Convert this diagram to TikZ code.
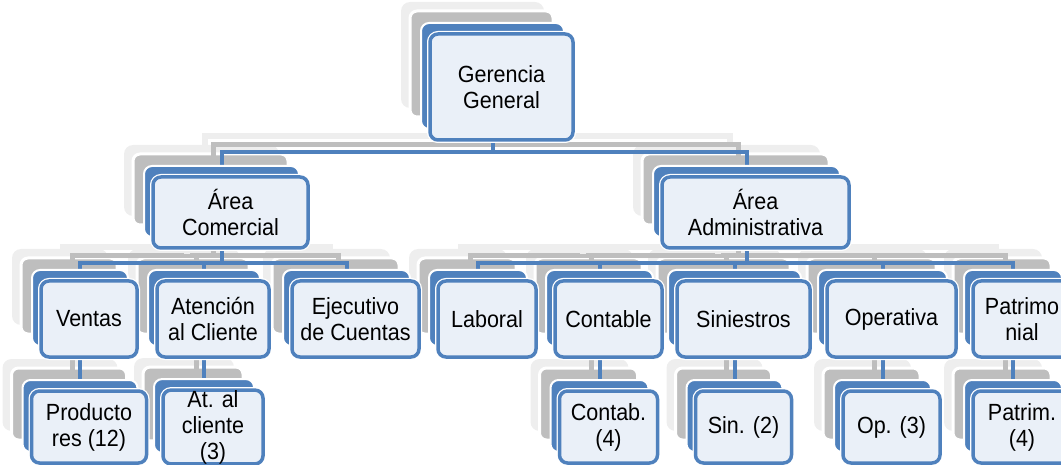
\documentclass[tikz,border=0pt]{standalone}
\usepackage{fontspec}
\setmainfont{Liberation Sans}[FakeStretch=0.92]
\usetikzlibrary{shadows}
\pgfdeclarelayer{shade}
\pgfdeclarelayer{links}
\pgfsetlayers{shade,links,main}
\definecolor{chartblue}{HTML}{4F81BD}
\definecolor{boxfill}{HTML}{EAF0F8}
\definecolor{shadedark}{HTML}{BEBEBE}
\definecolor{shadelight}{HTML}{EEEEEE}
\tikzset{
	unit/.style={rectangle, rounded corners=8pt, draw=chartblue, line width=3.5pt,
		fill=boxfill, inner sep=0pt, outer sep=0pt, align=center,
		font=\fontsize{23.4}{26}\selectfont,
		general shadow={fill=chartblue, draw=white, line width=2pt, rounded corners=7pt,
			shadow xshift=-9pt, shadow yshift=11pt},
		preaction={draw=white, line width=6pt}},
	sz/.style 2 args={minimum width=#1pt, minimum height=#2pt},
	boxdark/.style={fill=shadedark, draw=white, line width=3pt, rounded corners=7pt},
	boxlight/.style={fill=shadelight, rounded corners=9pt},
	link/.style={draw=chartblue, line width=4pt},
	linkdark/.style={draw=shadedark, line width=5pt, transform canvas={shift={(-8,-7)}}},
	linklight/.style={draw=shadelight, line width=6pt, transform canvas={shift={(-17,-16)}}}
}
\begin{document}
\begin{tikzpicture}[x=1pt,y=-1pt]
			\useasboundingbox (0,0) rectangle (1061,465);
			
			% Top
			\node[unit, sz={143}{106}] (gg) at (501.5,87) {Gerencia\\General};
			
			% Areas
			\node[unit, sz={155}{71}] (com) at (230.5,212.5) {Área\\Comercial};
			\node[unit, sz={187}{71}] (adm) at (755.5,212.5) {Área\\Administrativa};
			
			% Departments
			\node[unit, sz={96}{76}] (ven) at (89,319) {Ventas};
			\node[unit, sz={112}{76}] (ate) at (213,319) {Atención\\al Cliente};
			\node[unit, sz={127}{76}] (eje) at (355.5,319) {Ejecutivo\\de Cuentas};
			\node[unit, sz={98}{76}] (lab) at (487,319) {Laboral};
			\node[unit, sz={107}{76}] (cont) at (608.5,319) {Contable};
			\node[unit, sz={133}{76}] (sin) at (743.5,319) {Siniestros};
			\node[unit, sz={129}{76}] (ope) at (891.5,319) {Operativa};
			\node[unit, sz={98}{76}] (pat) at (1022,319) {Patrimo\\nial};
			
			% Staff
			\node[unit, sz={115}{72}] (prod) at (89,427) {Producto\\res (12)};
			\node[unit, sz={100}{72}] (atc) at (213,427) {At. al\\cliente\\(3)};
			\node[unit, sz={98}{72}] (ctb) at (608.5,427) {Contab.\\(4)};
			\node[unit, sz={96}{72}] (sn2) at (743.5,427) {Sin. (2)};
			\node[unit, sz={97}{72}] (op3) at (891.5,427) {Op. (3)};
			\node[unit, sz={98}{72}] (ptm) at (1022,427) {Patrim.\\(4)};
			
			% Shadows of the boxes
			\begin{pgfonlayer}{shade}
			\foreach \n in {gg,com,adm,ven,ate,eje,lab,cont,sin,ope,pat,prod,atc,ctb,sn2,op3,ptm}{
				\path[boxlight] ([shift={(-29,-32)}]\n.north west) rectangle ([shift={(-29,-32)}]\n.south east);
				\path[boxdark] ([shift={(-20,-23)}]\n.north west) rectangle ([shift={(-20,-23)}]\n.south east);
			}
			\end{pgfonlayer}
			
			% Connectors
			\begin{pgfonlayer}{links}
			\foreach \p/\c/\d in {gg/com/23,gg/adm/23,com/ven/26,com/ate/26,com/eje/26,adm/lab/26,adm/cont/26,adm/sin/26,adm/ope/26,adm/pat/26,ven/prod/17,ate/atc/17,cont/ctb/17,sin/sn2/17,ope/op3/17,pat/ptm/17}{
				\draw[linklight] ([shift={(-9,-11)}]\p.south) -- ++(0,\d) -| ([shift={(-9,-11)}]\c.north);
				\draw[linkdark] ([shift={(-9,-11)}]\p.south) -- ++(0,\d) -| ([shift={(-9,-11)}]\c.north);
			}
			\foreach \p/\c/\d in {gg/com/23,gg/adm/23,com/ven/26,com/ate/26,com/eje/26,adm/lab/26,adm/cont/26,adm/sin/26,adm/ope/26,adm/pat/26,ven/prod/17,ate/atc/17,cont/ctb/17,sin/sn2/17,ope/op3/17,pat/ptm/17}{
				\draw[link] ([shift={(-9,-11)}]\p.south) -- ++(0,\d) -| ([shift={(-9,-11)}]\c.north);
			}
			\end{pgfonlayer}
		\end{tikzpicture}
\end{document}
